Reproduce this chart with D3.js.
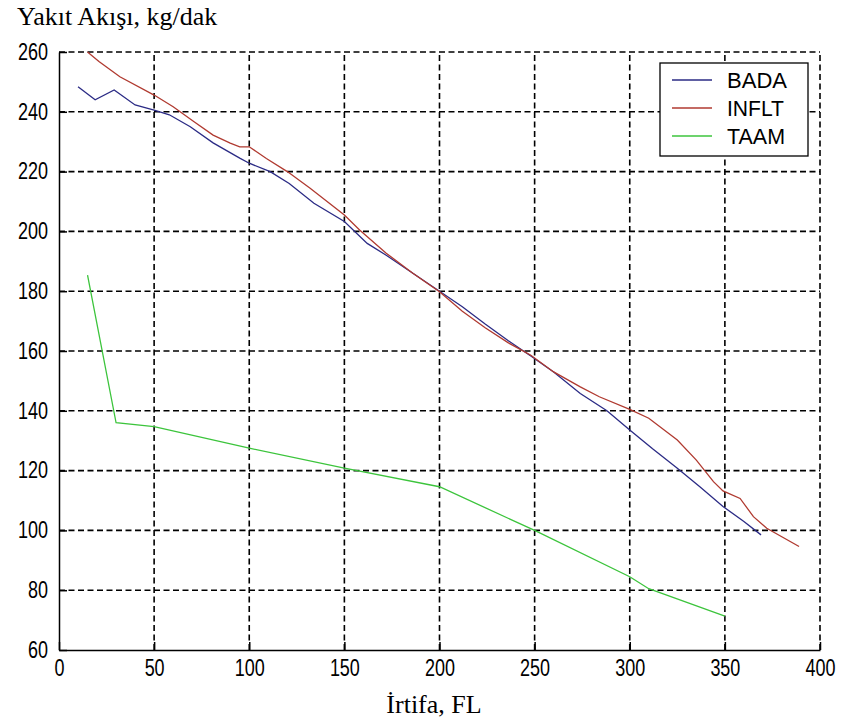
<!DOCTYPE html>
<html>
<head>
<meta charset="utf-8">
<script src="https://cdn.jsdelivr.net/npm/d3@7"></script>
<style>
  html, body { margin: 0; padding: 0; background: #fff; }
  svg { display: block; }
</style>
</head>
<body>
<svg id="chart" width="845" height="724"></svg>
<script>
// ---- data ----
const xTicks = [0, 50, 100, 150, 200, 250, 300, 350, 400];
const yTicks = [60, 80, 100, 120, 140, 160, 180, 200, 220, 240, 260];

const badaFL = [10, 19, 29, 40, 50, 58, 69, 81, 95, 100, 111, 121, 134, 150, 162, 172, 186, 200, 212, 224, 236, 248, 260, 274, 288, 300, 312, 325, 337, 349, 360, 369];
const badaVal = [248.4, 244, 247.3, 242.3, 240.6, 239, 235, 229.6, 224.5, 222.8, 220, 216, 209.4, 203.3, 196, 192, 186, 180, 174.8, 169, 163.5, 158.3, 153, 145.8, 140, 133.6, 127.3, 120.8, 114.5, 108, 103, 98.5];

const infltFL = [15, 21, 32, 50, 60, 71, 81, 90, 95, 100, 109, 120, 132, 150, 158, 172, 186, 200, 212, 224, 236, 248, 260, 274, 284, 300, 310, 325, 335, 344, 349, 358, 365, 372, 389];
const infltVal = [260, 256.8, 251.7, 245.6, 241.7, 236.7, 232.2, 229.5, 228.3, 228.3, 224.4, 220, 214.4, 205.5, 200.5, 192.7, 186, 179.8, 173.3, 167.8, 162.8, 158.6, 153, 148, 144.7, 140.5, 137.5, 130.2, 123.5, 116.3, 113.2, 110.7, 104.6, 100.7, 94.6];

const taamFL = [15, 30, 50, 100, 150, 200, 250, 300, 310, 350];
const taamVal = [185.4, 136, 134.7, 127.5, 120.8, 114.6, 100, 84.5, 80.5, 71.3];

const seriesNames = ["BADA", "INFLT", "TAAM"];
const seriesColors = ["#2b2b85", "#b03a30", "#3cc43c"];
const legendWidths = [60, 57, 58];

const titleText = "Yakıt Akışı, kg/dak";
const xLabelText = "İrtifa, FL";

// ---- layout ----
const svg = d3.select("#chart");
const L = 59, R = 820, T = 52, B = 650;
const x = d3.scaleLinear().domain([0, 400]).range([L, R]);
const y = d3.scaleLinear().domain([60, 260]).range([B, T]);
const tickFont = "'Liberation Sans', Arial, sans-serif";

svg.append("rect").attr("width", 845).attr("height", 724).attr("fill", "#fff");

// grid
const grid = svg.append("g").attr("stroke", "#000").attr("stroke-width", 1.6).attr("stroke-dasharray", "6,3.5");
grid.selectAll(".vg").data(xTicks.filter(d => d > 0)).join("line")
  .attr("x1", d => x(d)).attr("x2", d => x(d)).attr("y1", B).attr("y2", T);
grid.selectAll(".hg").data(yTicks.filter(d => d > 60)).join("line")
  .attr("y1", d => y(d)).attr("y2", d => y(d)).attr("x1", L).attr("x2", R);

// axes
const xAxis = svg.append("g").attr("transform", `translate(0,${B})`)
  .call(d3.axisBottom(x).tickValues(xTicks).tickSizeInner(-8).tickSizeOuter(0).tickPadding(10).tickFormat(d3.format("d")));
const yAxis = svg.append("g").attr("transform", `translate(${L},0)`)
  .call(d3.axisLeft(y).tickValues(yTicks).tickSizeInner(-8).tickSizeOuter(0).tickPadding(11).tickFormat(d3.format("d")));
[xAxis, yAxis].forEach(a => {
  a.select(".domain").attr("stroke", "#000").attr("stroke-width", 1.5);
  a.selectAll(".tick line").attr("stroke", "#000").attr("stroke-width", 1.5);
  a.selectAll(".tick text").attr("font-family", tickFont).attr("font-size", 23).attr("fill", "#000")
    .attr("textLength", function () { return this.textContent.length * 10; })
    .attr("lengthAdjust", "spacingAndGlyphs");
});

// lines
const line = d3.line().x(d => x(d[0])).y(d => y(d[1]));
const series = [
  d3.zip(badaFL, badaVal),
  d3.zip(infltFL, infltVal),
  d3.zip(taamFL, taamVal)
];
series.forEach((s, i) => {
  svg.append("path").datum(s).attr("d", line)
    .attr("fill", "none").attr("stroke", seriesColors[i]).attr("stroke-width", 1.3);
});

// legend
const lg = svg.append("g");
lg.append("rect").attr("x", 660).attr("y", 63).attr("width", 148).attr("height", 93)
  .attr("fill", "#fff").attr("stroke", "#000").attr("stroke-width", 1.3);
seriesNames.forEach((n, i) => {
  const yy = 80 + i * 28;
  lg.append("line").attr("x1", 672).attr("x2", 712).attr("y1", yy).attr("y2", yy)
    .attr("stroke", seriesColors[i]).attr("stroke-width", 1.3);
  lg.append("text").attr("x", 727).attr("y", yy + 7.5).text(n)
    .attr("font-family", tickFont).attr("font-size", 22).attr("fill", "#000")
    .attr("textLength", legendWidths[i]).attr("lengthAdjust", "spacingAndGlyphs");
});

// titles
svg.append("text").attr("x", 17).attr("y", 25).text(titleText)
  .attr("font-family", "'Liberation Serif', 'Times New Roman', serif").attr("font-size", 26).attr("fill", "#000");
svg.append("text").attr("x", 434).attr("y", 713).attr("text-anchor", "middle").text(xLabelText)
  .attr("font-family", "'Liberation Serif', 'Times New Roman', serif").attr("font-size", 26).attr("fill", "#000");
</script>
</body>
</html>
